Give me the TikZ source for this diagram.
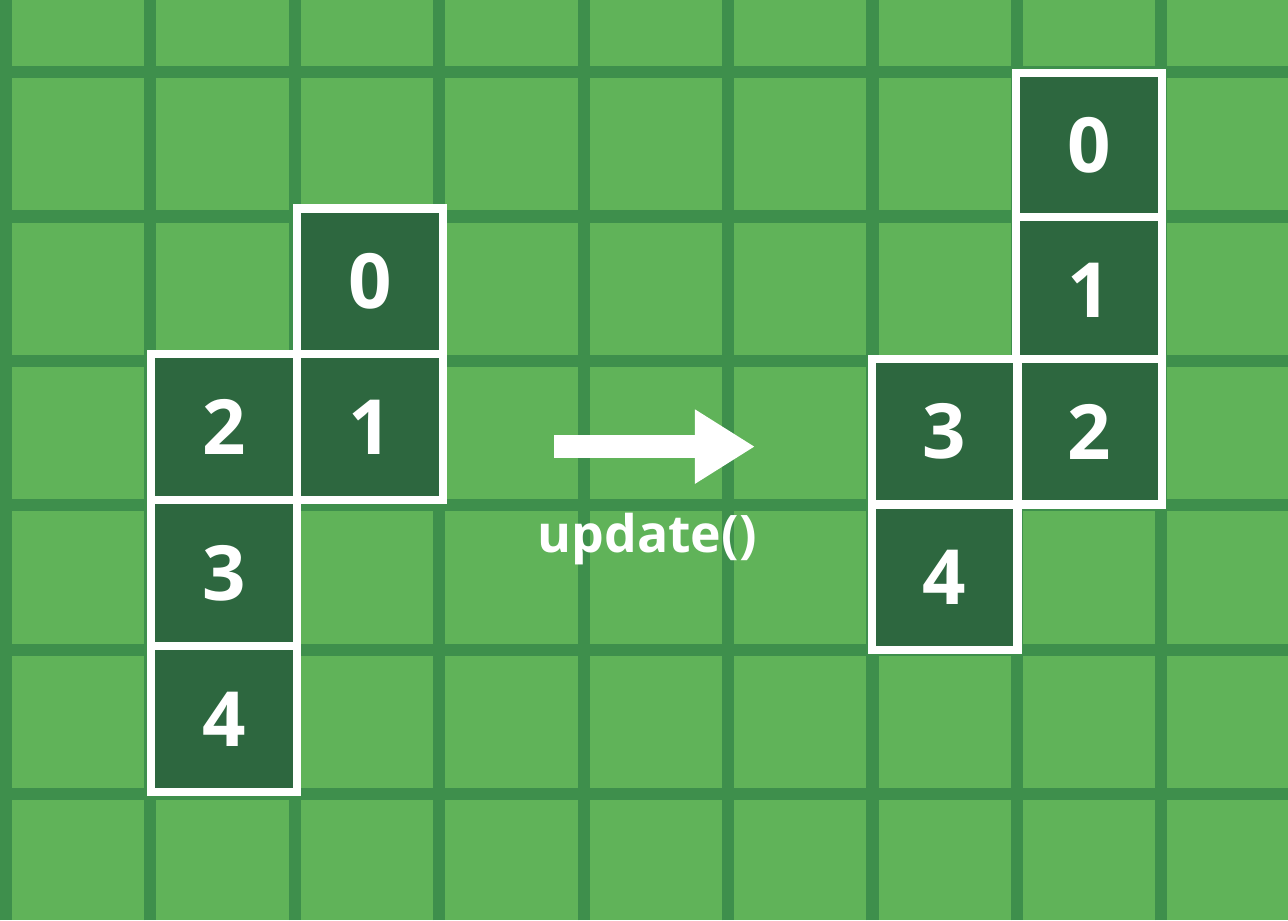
\documentclass[tikz,border=0pt]{standalone}
\usepackage{fontspec}
\setmainfont{Open Sans}
\usetikzlibrary{arrows.meta}
\definecolor{cellgreen}{RGB}{96,179,89}
\definecolor{gridgreen}{RGB}{62,143,76}
\definecolor{blockgreen}{RGB}{45,103,63}

\begin{document}
\begin{tikzpicture}[
    block/.style={draw=white,line width=1.6pt,fill=blockgreen,minimum size=1.01cm,
      inner sep=0pt,outer sep=0pt,text=white,font=\fontsize{15}{15}\selectfont\bfseries},
    gridline/.style={gridgreen,line width=2.4pt}
  ]
    % board
    \useasboundingbox (-0.0416,-0.873) rectangle (8.878,5.499);
    \fill[cellgreen] (-0.0416,-0.873) rectangle (8.878,5.499);
    \foreach \i in {0,...,8}
      \draw[gridline] (\i,-0.873) -- (\i,5.499);
    \foreach \j in {0,...,5}
      \draw[gridline] (-0.0416,\j) -- (8.878,\j);
    % snake before update
    \node[block] (l0) at (2.52,3.55) {0};
    \node[block] (l1) at (2.52,2.54) {1};
    \node[block] (l2) at (1.51,2.54) {2};
    \node[block] (l3) at (1.51,1.53) {3};
    \node[block] (l4) at (1.51,0.52) {4};
    % snake after update
    \node[block] (r0) at (7.50,4.49) {0};
    \node[block] (r1) at (7.50,3.49) {1};
    \node[block] (r2) at (7.50,2.51) {2};
    \node[block] (r3) at (6.50,2.51) {3};
    \node[block] (r4) at (6.50,1.50) {4};
    % update arrow
    \coordinate (arrowtail) at (3.795,2.406);
    \coordinate (arrowtip) at (5.187,2.406);
    \draw[white,line width=0.159cm,-{Triangle[length=0.416cm,width=0.485cm]}] (arrowtail) -- (arrowtip);
    \node[white,anchor=base,font=\fontsize{10.2}{10.2}\selectfont\bfseries] (updatelabel) at (4.44,1.67) {update()};
  \end{tikzpicture}
\end{document}
